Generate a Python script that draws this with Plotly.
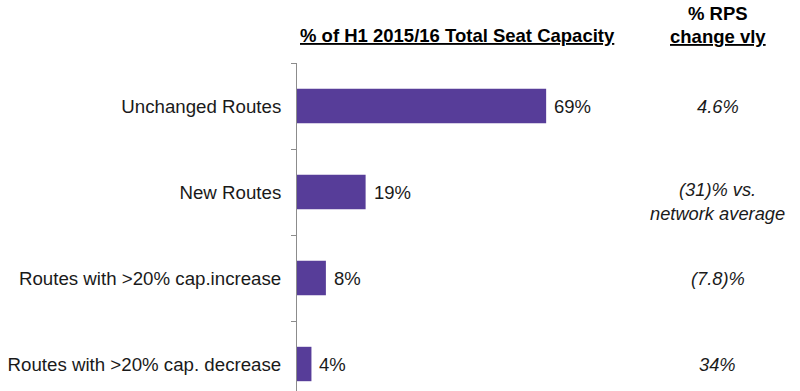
import plotly.graph_objects as go

categories = ["Unchanged Routes", "New Routes", "Routes with >20% cap.increase", "Routes with >20% cap. decrease"]
capacity_share = [69, 19, 8, 4]
capacity_labels = ["69%", "19%", "8%", "4%"]
rps_change = ["4.6%", "(31)% vs.<br>network average", "(7.8)%", "34%"]

FONT = "Liberation Sans, Arial, sans-serif"
BAR_COLOR = "#573d99"

fig = go.Figure()
fig.add_trace(go.Bar(
    x=capacity_share,
    y=categories,
    orientation="h",
    marker=dict(color=BAR_COLOR, line=dict(width=0)),
    hoverinfo="skip",
))

annotations = []
for cat, val, lab in zip(categories, capacity_share, capacity_labels):
    annotations.append(dict(x=val, y=cat, xref="x", yref="y", text=lab, showarrow=False,
                            xanchor="left", yanchor="middle", xshift=6,
                            font=dict(family=FONT, size=18.5, color="#1a1a1a")))
for cat, txt in zip(categories, rps_change):
    annotations.append(dict(x=0.836, y=cat, xref="paper", yref="y", text="<i>" + txt + "</i>",
                            showarrow=False, xanchor="center", yanchor="middle",
                            yshift=-9 if "<br>" in txt else 0,
                            font=dict(family=FONT, size=18.3, color="#1a1a1a")))

annotations.append(dict(x=0.320, y=1.085, xref="paper", yref="paper",
                        text="<b><u>% of H1 2015/16 Total Seat Capacity</u></b>", showarrow=False,
                        xanchor="center", yanchor="middle",
                        font=dict(family=FONT, size=18.5, color="#000000")))
annotations.append(dict(x=0.836, y=1.152, xref="paper", yref="paper",
                        text="<b>% RPS</b>", showarrow=False,
                        xanchor="center", yanchor="middle",
                        font=dict(family=FONT, size=18.5, color="#000000")))
annotations.append(dict(x=0.836, y=1.082, xref="paper", yref="paper",
                        text="<b><u>change vly</u></b>", showarrow=False,
                        xanchor="center", yanchor="middle",
                        font=dict(family=FONT, size=18.5, color="#000000")))

fig.update_layout(
    width=800, height=391,
    margin=dict(l=297, r=0, t=63, b=0),
    paper_bgcolor="white", plot_bgcolor="white",
    bargap=0.6,
    showlegend=False,
    annotations=annotations,
    xaxis=dict(visible=False, range=[0, 139.3], fixedrange=True),
    yaxis=dict(
        range=[3.314, -0.5],
        showline=True, linecolor="#8c8c8c", linewidth=1,
        ticks="outside", ticklen=5, tickcolor="#8c8c8c", tickson="boundaries",
        showgrid=False, zeroline=False, fixedrange=True,
        ticklabelstandoff=11,
        tickfont=dict(family=FONT, size=18.7, color="#1a1a1a"),
    ),
)

fig.write_html("out.html", config={"displayModeBar": False, "staticPlot": True},
               post_script="document.body.style.margin='0';document.body.style.overflow='hidden';")
